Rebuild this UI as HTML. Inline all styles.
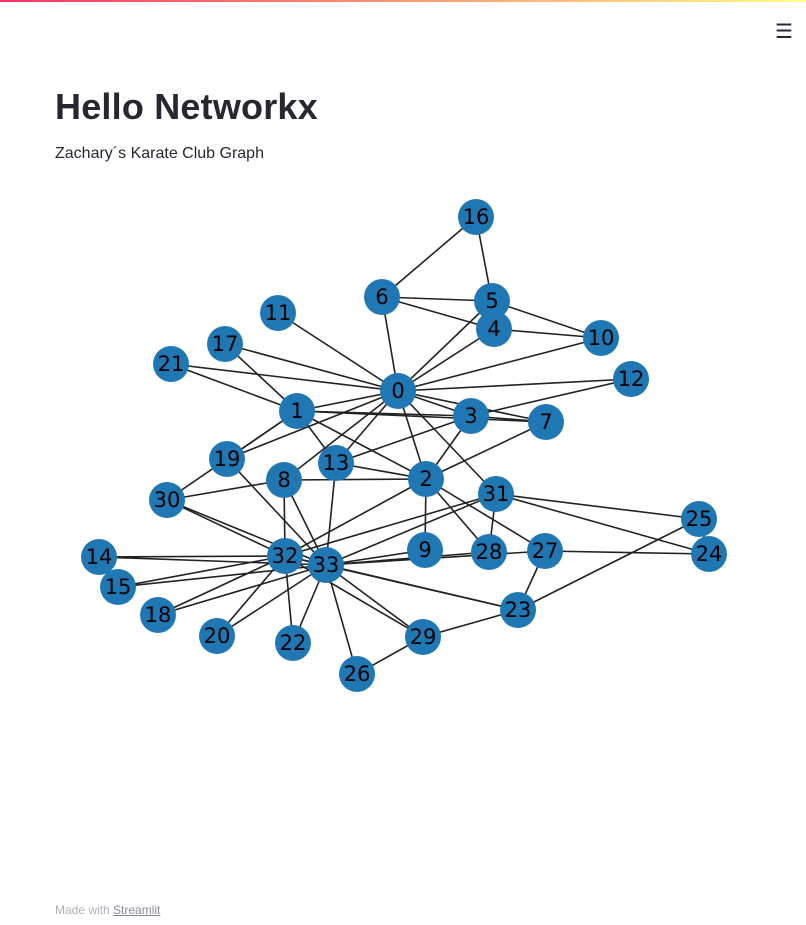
<!DOCTYPE html>
<html><head><meta charset="utf-8">
<style>
body{margin:0;width:806px;height:925px;background:#fff;font-family:"Liberation Sans",sans-serif;position:relative;overflow:hidden}
#bar{position:absolute;left:0;top:0;width:806px;height:2px;background:linear-gradient(90deg,#f63366,#fffd80)}
#menu{position:absolute;left:775px;top:19px;font-size:20px;color:#262730}
h1{position:absolute;left:55px;top:86px;margin:0;font-size:36px;font-weight:bold;color:#262730;letter-spacing:0.2px}
#sub{position:absolute;left:55px;top:145px;font-size:16px;color:#262730}
#foot{position:absolute;left:55px;top:903px;font-size:12px;color:#b0b0b8}
#foot a{color:#8a8a96;text-decoration:underline}
svg{position:absolute;left:0;top:0}
</style></head><body>
<div id="bar"></div>
<div id="menu">☰</div>
<h1>Hello Networkx</h1>
<div id="sub">Zachary´s Karate Club Graph</div>
<svg id="g" width="806" height="925"></svg>
<div id="foot">Made with <a>Streamlit</a></div>
<script>
const nodeX=[398,297,426,471,494,492,382,546,284,425,601,278,631,336,99,118,476,225,158,227,217,171,293,518,709,699,357,545,489,423,167,496,285,326];
const nodeY=[391,411,479,416,329,301,297,422,480,550,338,313,379,463,557,587,217,344,615,459,636,364,643,610,554,519,674,551,552,637,500,494,556,565];
const edges=[[0,1],[0,2],[0,3],[0,4],[0,5],[0,6],[0,7],[0,8],[0,10],[0,11],[0,12],[0,13],[0,17],[0,19],[0,21],[0,31],
[1,2],[1,3],[1,7],[1,13],[1,17],[1,19],[1,21],[1,30],[2,3],[2,7],[2,8],[2,9],[2,13],[2,27],[2,28],[2,32],
[3,7],[3,12],[3,13],[4,6],[4,10],[5,6],[5,10],[5,16],[6,16],[8,30],[8,32],[8,33],[9,33],[13,33],[14,32],[14,33],
[15,32],[15,33],[18,32],[18,33],[19,33],[20,32],[20,33],[22,32],[22,33],[23,25],[23,27],[23,29],[23,32],[23,33],
[24,25],[24,27],[24,31],[25,31],[26,29],[26,33],[27,33],[28,31],[28,33],[29,32],[29,33],[30,32],[30,33],[31,32],[31,33],[32,33]];
const svg=document.getElementById('g');const NS='http://www.w3.org/2000/svg';
edges.forEach(([a,b])=>{const l=document.createElementNS(NS,'line');


l.setAttribute('x1',nodeX[a]);l.setAttribute('y1',nodeY[a]);l.setAttribute('x2',nodeX[b]);l.setAttribute('y2',nodeY[b]);
l.setAttribute('stroke','#222');l.setAttribute('stroke-width','1.6');svg.appendChild(l);});
nodeX.forEach((x,i)=>{const c=document.createElementNS(NS,'circle');


c.setAttribute('cx',x);c.setAttribute('cy',nodeY[i]);c.setAttribute('r',18);c.setAttribute('fill','#1f77b4');svg.appendChild(c);
const t=document.createElementNS(NS,'text');


t.setAttribute('x',x);t.setAttribute('y',nodeY[i]+7);t.setAttribute('text-anchor','middle');
t.setAttribute('font-family','DejaVu Sans, sans-serif');t.setAttribute('font-size','21');t.setAttribute('fill','#000');
t.textContent=i;svg.appendChild(t);});
</script>
</body></html>
